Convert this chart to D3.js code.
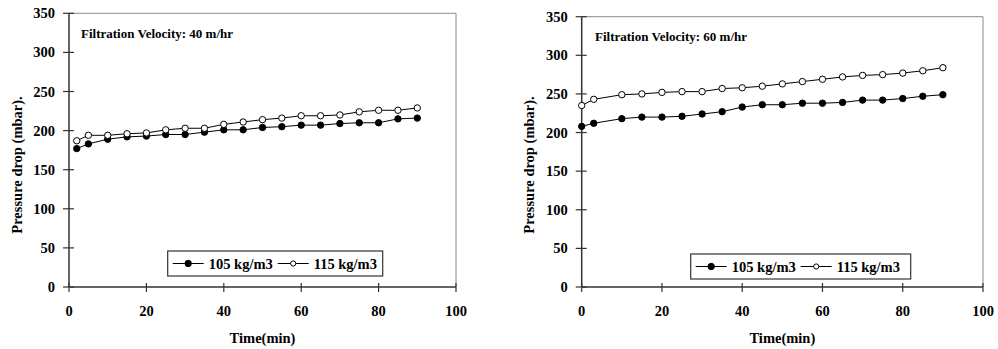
<!DOCTYPE html>
<html>
<head>
<meta charset="utf-8">
<script src="https://cdn.jsdelivr.net/npm/d3@7"></script>
<style>
  body { margin: 0; background: #fff; }
  svg text { font-family: 'Liberation Serif', Tinos, 'Times New Roman', Times, 'DejaVu Serif', serif; font-weight: bold; fill: #000; }
</style>
</head>
<body>
<div id="chart"></div>
<script>
// Time (min) of the readings, one list per test
var time40 = [2, 5, 10, 15, 20, 25, 30, 35, 40, 45, 50, 55, 60, 65, 70, 75, 80, 85, 90];
var time60 = [0, 3, 10, 15, 20, 25, 30, 35, 40, 45, 50, 55, 60, 65, 70, 75, 80, 85, 90];
// Pressure drop (mbar) at 40 m/hr
var dp40_105 = [177, 183, 189, 192, 193, 195, 195, 198, 201, 201, 204, 205, 207, 207, 209, 210, 210, 215, 216];
var dp40_115 = [187, 194, 194, 196, 197, 201, 203, 203, 208, 211, 214, 216, 219, 219, 220, 224, 226, 226, 229];
// Pressure drop (mbar) at 60 m/hr
var dp60_105 = [208, 212, 218, 220, 220, 221, 224, 227, 233, 236, 236, 238, 238, 239, 242, 242, 244, 247, 249];
var dp60_115 = [235, 243, 249, 250, 252, 253, 253, 257, 258, 260, 263, 266, 269, 272, 274, 275, 277, 280, 284];
var seriesNames = ["105 kg/m3", "115 kg/m3"];
var xTicks = [0, 20, 40, 60, 80, 100];
var yTicks = [0, 50, 100, 150, 200, 250, 300, 350];

var svg = d3.select("#chart").append("svg").attr("width", 998).attr("height", 349);

function drawPanel(p) {
	var x = d3.scaleLinear().domain([0, 100]).range([p.x0, p.x1]);
	var y = d3.scaleLinear().domain([0, 350]).range([287, p.yTop]);
	var g = svg.append("g");

	// light frame on top and right
	g.append("path")
		.attr("d", "M" + p.x0 + "," + p.yTop + "H" + p.x1 + "V287")
		.attr("fill", "none").attr("stroke", "#8a8a8a").attr("stroke-width", 1);

	// y axis with crossing ticks
	g.append("line").attr("x1", p.x0).attr("x2", p.x0).attr("y1", y(0)).attr("y2", y(350))
		.attr("stroke", "#333").attr("stroke-width", 1.5);
	g.selectAll(".yt").data(yTicks).enter().append("line")
		.attr("x1", p.x0 - 6).attr("x2", p.x0 + 5)
		.attr("y1", function(d){ return y(d); }).attr("y2", function(d){ return y(d); })
		.attr("stroke", "#333").attr("stroke-width", 1.2);
	g.selectAll(".yl").data(yTicks).enter().append("text")
		.attr("x", p.x0 - 14).attr("y", function(d){ return y(d); })
		.attr("dy", "0.35em").attr("text-anchor", "end").attr("font-size", 14.5)
		.text(String);

	// x axis with crossing ticks
	g.append("line").attr("x1", x(0)).attr("x2", x(100)).attr("y1", 287).attr("y2", 287)
		.attr("stroke", "#333").attr("stroke-width", 1.5);
	g.selectAll(".xt").data(xTicks).enter().append("line")
		.attr("x1", function(d){ return x(d); }).attr("x2", function(d){ return x(d); })
		.attr("y1", 283).attr("y2", 292)
		.attr("stroke", "#333").attr("stroke-width", 1.2);
	g.selectAll(".xl").data(xTicks).enter().append("text")
		.attr("x", function(d){ return x(d); }).attr("y", 316)
		.attr("text-anchor", "middle").attr("font-size", 14.5)
		.text(String);

	// axis titles
	g.append("text").attr("x", (p.x0 + p.x1) / 2).attr("y", 343)
		.attr("text-anchor", "middle").attr("font-size", 14.5).text("Time(min)");
	g.append("text").attr("transform", "translate(" + p.yTitleX + ",165) rotate(-90)")
		.attr("text-anchor", "middle").attr("font-size", 14.5).text("Pressure drop (mbar).");

	// annotation
	g.append("text").attr("x", p.noteX).attr("y", p.noteY).attr("font-size", 13).text(p.note);

	// series
	var line = d3.line().x(function(d){ return x(d[0]); }).y(function(d){ return y(d[1]); });
	p.series.forEach(function(s, k) {
		var pts = d3.zip(p.time, s);
		g.append("path").datum(pts).attr("d", line)
			.attr("fill", "none").attr("stroke", "#000").attr("stroke-width", 1);
		g.selectAll(".m" + k).data(pts).enter().append("circle")
			.attr("cx", function(d){ return x(d[0]); }).attr("cy", function(d){ return y(d[1]); })
			.attr("r", 3.2)
			.attr("fill", k == 0 ? "#000" : "#fff").attr("stroke", "#000").attr("stroke-width", 1);
	});

	// legend
	var lg = g.append("g").attr("transform", "translate(" + p.legX + "," + p.legY + ")");
	lg.append("rect").attr("width", p.legW).attr("height", 25)
		.attr("fill", "#fff").attr("stroke", "#333").attr("stroke-width", 1.2);
	var offs = [5, 110];
	seriesNames.forEach(function(name, k) {
		var o = offs[k];
		lg.append("line").attr("x1", o).attr("x2", o + 31).attr("y1", 12.5).attr("y2", 12.5)
			.attr("stroke", "#000").attr("stroke-width", 1);
		lg.append("circle").attr("cx", o + 15.5).attr("cy", 12.5).attr("r", k == 0 ? 3.2 : 2.6)
			.attr("fill", k == 0 ? "#000" : "#fff").attr("stroke", "#000").attr("stroke-width", 1);
		lg.append("text").attr("x", o + 36).attr("y", 12.5).attr("dy", "0.35em")
			.attr("font-size", 14.5).text(name);
	});
}

drawPanel({
	x0: 69, x1: 456, yTop: 13.3, yTitleX: 22,
	note: "Filtration Velocity: 40 m/hr", noteX: 81, noteY: 38,
	time: time40, series: [dp40_105, dp40_115],
	legX: 167.7, legY: 251, legW: 215
});
drawPanel({
	x0: 581.7, x1: 983, yTop: 16.7, yTitleX: 534,
	note: "Filtration Velocity: 60 m/hr", noteX: 595, noteY: 41,
	time: time60, series: [dp60_105, dp60_115],
	legX: 690.7, legY: 254, legW: 220
});
</script>
</body>
</html>
